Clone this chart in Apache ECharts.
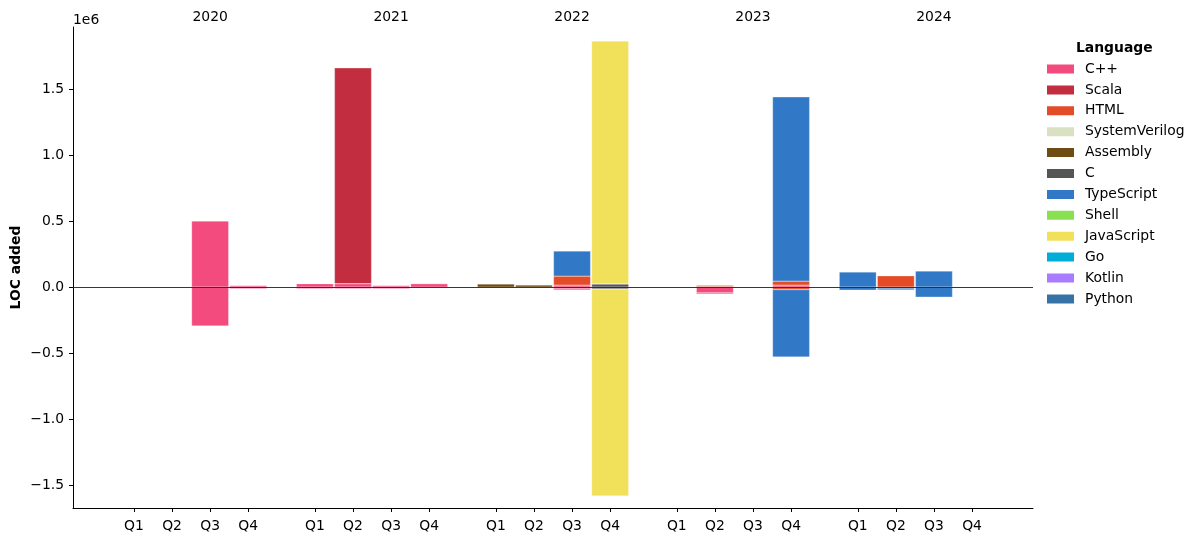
<!DOCTYPE html>
<html>
<head>
<meta charset="utf-8">
<script src="https://cdn.jsdelivr.net/npm/echarts@6/dist/echarts.min.js"></script>
<style>
html,body{margin:0;padding:0;background:#fff;}
#chart{width:1199px;height:542px;}
</style>
</head>
<body>
<div id="chart"></div>
<script>
// ---- data (quarters 2020Q1 .. 2024Q4) ----
const years = ['2020', '2021', '2022', '2023', '2024'];
const quarters = ['Q1', 'Q2', 'Q3', 'Q4'];
const yTickValues = [-1500000, -1000000, -500000, 0, 500000, 1000000, 1500000];

const languages = ['C++', 'Scala', 'HTML', 'SystemVerilog', 'Assembly', 'C', 'TypeScript', 'Shell', 'JavaScript', 'Go', 'Kotlin', 'Python'];
const colors = ['#f34b7d', '#c22d40', '#e34c26', '#dae1c2', '#6e4c13', '#555555', '#3178c6', '#89e051', '#f1e05a', '#00add8', '#a97bff', '#3572a5'];

//                 2020                    2021                          2022                        2023                           2024
const cppPos   = [0, 0, 500000, 10000,     25000, 25000, 10000, 25000,   0, 0, 15000, 0,             0, 0, 0, 15000,                0, 0, 0, 0];
const cppNeg   = [0, 0, -295000, -12000,   -13000, -13000, -13000, 0,    0, 0, -15000, 0,            0, -45000, 0, -5000,           0, 0, 0, 0];
const scalaPos = [0, 0, 0, 0,              0, 1635000, 0, 0,             0, 0, 0, 0,                 0, 0, 0, 0,                    0, 0, 0, 0];
const scalaNeg = [0, 0, 0, 0,              0, 0, 0, 0,                   0, 0, 0, 0,                 0, 0, 0, 0,                    0, 0, 0, 0];
const htmlPos  = [0, 0, 0, 0,              0, 0, 0, 0,                   0, 0, 68000, 0,             0, 8000, 0, 30000,             0, 85000, 0, 0];
const htmlNeg  = [0, 0, 0, 0,              0, 0, 0, 0,                   0, 0, 0, 0,                 0, 0, 0, -15000,               0, -8000, 0, 0];
const svPos    = [0, 0, 0, 0,              0, 0, 0, 7000,                0, 0, 0, 0,                 0, 0, 0, 0,                    0, 0, 0, 0];
const svNeg    = [0, 0, 0, 0,              0, 0, 0, 0,                   0, 0, 0, 0,                 0, 0, 0, 0,                    0, 0, 0, 0];
const asmPos   = [0, 0, 0, 0,              0, 0, 0, 0,                   23000, 15000, 0, 0,         0, 0, 0, 0,                    0, 0, 0, 0];
const asmNeg   = [0, 0, 0, 0,              0, 0, 0, 0,                   0, 0, 0, 0,                 0, 0, 0, 0,                    0, 0, 0, 0];
const cPos     = [0, 0, 0, 0,              0, 0, 0, 0,                   0, 0, 0, 23000,             0, 0, 0, 0,                    0, 0, 0, 0];
const cNeg     = [0, 0, 0, 0,              0, 0, 0, 0,                   0, 0, 0, -15000,            0, 0, 0, 0,                    0, 0, 0, 0];
const tsPos    = [0, 0, 0, 0,              0, 0, 0, 0,                   0, 0, 190000, 0,            0, 7000, 0, 1395000,           114000, 0, 121000, 0];
const tsNeg    = [0, 0, 0, 0,              0, 0, 0, 0,                   0, 0, -8000, 0,             0, -8000, 0, -510000,          -23000, -13000, -76000, 0];
const shellPos = [0, 0, 0, 0,              0, 0, 0, 0,                   0, 0, 0, 0,                 0, 0, 0, 0,                    0, 0, 0, 0];
const shellNeg = [0, 0, 0, 0,              0, 0, 0, 0,                   0, 0, 0, 0,                 0, 0, 0, 0,                    0, 0, 0, 0];
const jsPos    = [0, 0, 0, 0,              0, 0, 0, 0,                   0, 0, 0, 1841000,           0, 0, 0, 0,                    0, 0, 0, 0];
const jsNeg    = [0, 0, 0, 0,              0, 0, 0, 0,                   0, 0, 0, -1568000,          0, 0, 0, 0,                    0, 0, 0, 0];
const goPos    = [0, 0, 0, 0,              0, 0, 0, 0,                   0, 0, 0, 0,                 0, 0, 0, 0,                    0, 0, 0, 0];
const goNeg    = [0, 0, 0, 0,              0, 0, 0, 0,                   0, 0, 0, 0,                 0, 0, 0, 0,                    0, 0, 0, 0];
const ktPos    = [0, 0, 0, 0,              0, 0, 0, 0,                   0, 0, 0, 0,                 0, 0, 0, 0,                    0, 0, 0, 0];
const ktNeg    = [0, 0, 0, 0,              0, 0, 0, 0,                   0, 0, 0, 0,                 0, 0, 0, 0,                    0, 0, 0, 0];
const pyPos    = [0, 0, 0, 0,              0, 0, 0, 0,                   0, 0, 0, 0,                 0, 0, 0, 0,                    0, 0, 0, 0];
const pyNeg    = [0, 0, 0, 0,              0, 0, 0, 0,                   0, 0, 0, 0,                 0, 0, 0, 0,                    0, 0, 0, 0];

const posData = [cppPos, scalaPos, htmlPos, svPos, asmPos, cPos, tsPos, shellPos, jsPos, goPos, ktPos, pyPos];
const negData = [cppNeg, scalaNeg, htmlNeg, svNeg, asmNeg, cNeg, tsNeg, shellNeg, jsNeg, goNeg, ktNeg, pyNeg];

// ---- layout of the quarter positions on the numeric x axis ----
const YEAR_STEP = 4.75;
const xs = [];
const xLabels = [];
years.forEach((y, yi) => quarters.forEach((q, qi) => { xs.push(yi * YEAR_STEP + qi); xLabels.push(q); }));
const yearPos = years.map((y, yi) => yi * YEAR_STEP + 2);

const FONT = 'DejaVu Sans';
const FS = 13.9;

// value first so that the stacked dimension is y (stacked by index)
function mk(arr) { return arr.map((v, i) => [v === 0 ? null : v, xs[i]]); }

const series = [];
function addBars(dataList) {
  languages.forEach((name, li) => {
    series.push({
      name: name, type: 'bar', stack: 'loc', barWidth: 37,
      encode: { x: 1, y: 0 },
      itemStyle: { color: colors[li], borderColor: '#fff', borderWidth: 0.3 },
      data: mk(dataList[li])
    });
  });
}
addBars(posData);
addBars(negData);
series.push({
  name: 'zero', type: 'line', data: [], z: 20, silent: true,
  markLine: {
    silent: true, symbol: 'none', animation: false,
    label: { show: false },
    lineStyle: { color: '#222', width: 1, type: 'solid', opacity: 0.9 },
    data: [{ yAxis: 0 }]
  }
});

const chart = echarts.init(document.getElementById('chart'), null, { renderer: 'canvas' });
chart.setOption({
  animation: false,
  backgroundColor: '#fff',
  textStyle: { fontFamily: FONT },
  grid: { left: 73, right: 166, top: 27, bottom: 34, containLabel: false, outerBoundsMode: 'none' },
  legend: {
    data: languages,
    orient: 'vertical',
    left: 1045, top: 62,
    icon: 'rect', itemWidth: 29, itemHeight: 11, itemGap: 6.9,
    textStyle: { fontFamily: FONT, fontSize: FS, color: '#000', padding: [0, 0, 0, 5] },
    padding: 0
  },
  graphic: [
    { type: 'text', left: 1076, top: 41, style: { text: 'Language', font: 'bold 13.9px "DejaVu Sans"', fill: '#000' } },
    { type: 'text', left: 73, top: 13, style: { text: '1e6', font: '13.9px "DejaVu Sans"', fill: '#000' } }
  ],
  xAxis: [
    {
      type: 'value', min: -1.6, max: 23.6, position: 'bottom',
      axisLine: { show: true, onZero: false, lineStyle: { color: '#000', width: 1 } },
      axisTick: { show: true, length: 4, customValues: xs, lineStyle: { color: '#000' } },
      axisLabel: {
        show: true, customValues: xs, margin: 11, fontSize: FS, color: '#000', fontFamily: FONT,
        formatter: function (v) { const i = xs.findIndex(x => Math.abs(x - v) < 1e-6); return i >= 0 ? xLabels[i] : ''; }
      },
      splitLine: { show: false }
    },
    {
      type: 'value', min: -1.6, max: 23.6, position: 'top',
      axisLine: { show: false }, axisTick: { show: false },
      axisLabel: {
        show: true, customValues: yearPos, margin: 3, fontSize: FS, color: '#000', fontFamily: FONT,
        formatter: function (v) { const i = yearPos.findIndex(x => Math.abs(x - v) < 1e-6); return i >= 0 ? years[i] : ''; }
      },
      splitLine: { show: false }
    }
  ],
  yAxis: {
    type: 'value', min: -1674000, max: 1970000,
    name: 'LOC added', nameLocation: 'middle', nameGap: 50, nameRotate: 90, nameMoveOverlap: false,
    nameTextStyle: { fontFamily: FONT, fontSize: FS, fontWeight: 'bold', color: '#000' },
    axisLine: { show: true, onZero: false, lineStyle: { color: '#000', width: 1 } },
    axisTick: { show: true, length: 4, customValues: yTickValues, lineStyle: { color: '#000' } },
    axisLabel: {
      customValues: yTickValues, margin: 9, fontSize: FS, color: '#000', fontFamily: FONT,
      formatter: function (v) { return (v / 1e6).toFixed(1).replace('-', '\u2212'); }
    },
    splitLine: { show: false }
  },
  series: series
});
</script>
</body>
</html>
